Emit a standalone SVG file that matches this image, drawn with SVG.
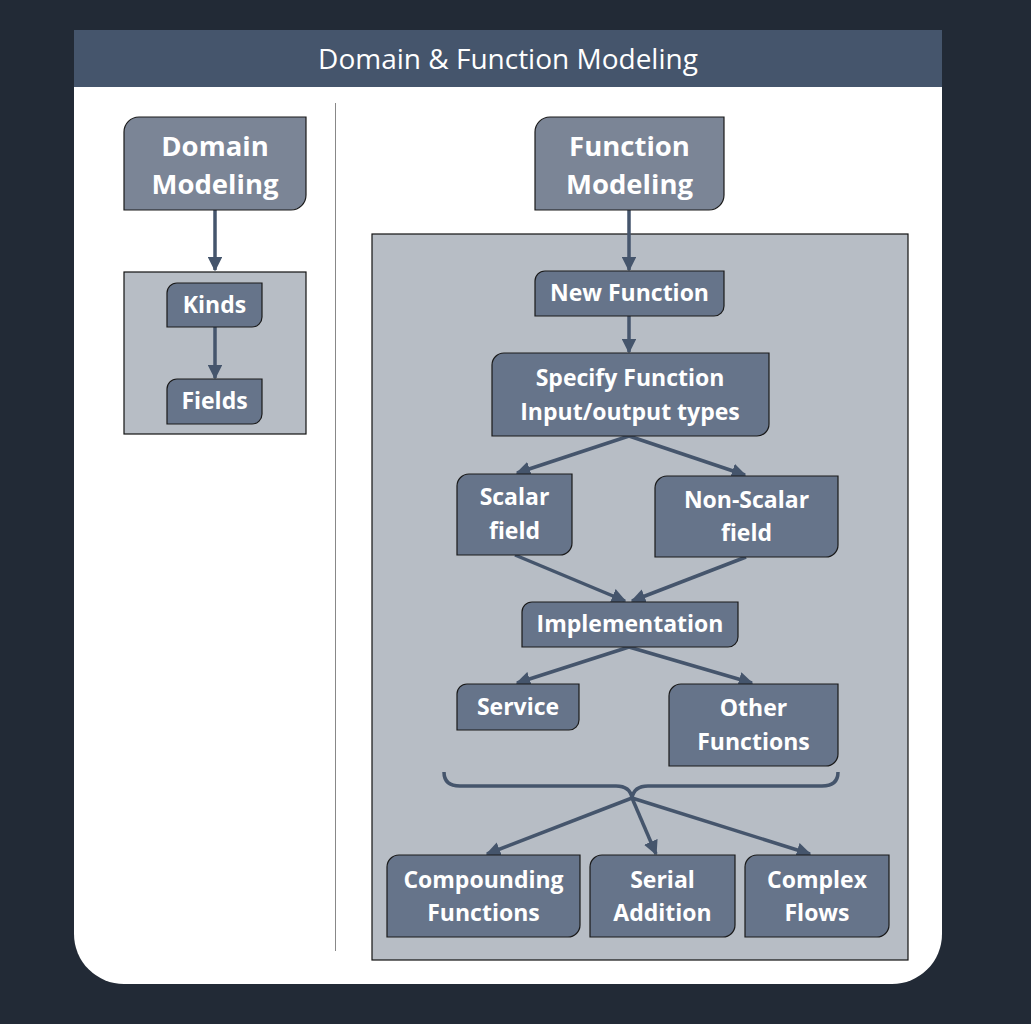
<svg xmlns="http://www.w3.org/2000/svg" width="1031" height="1024" viewBox="0 0 1031 1024">
<defs>
<marker id="ah" viewBox="0 0 10 10" refX="9" refY="5" markerWidth="4.2" markerHeight="4.2" orient="auto" markerUnits="strokeWidth">
<path d="M0,0 L10,5 L0,10 Z" fill="#45556c"/>
</marker>
</defs>
<style>
.node{fill:#66748a;stroke:#1a1a1a;stroke-width:1.2}
.top{fill:#7b8596;stroke:#1a1a1a;stroke-width:1.2}
.cont{fill:#b7bdc5;stroke:#111;stroke-width:1.2}
.t{font-family:"Open Sans","Liberation Sans",sans-serif;font-weight:bold;fill:#fff;text-anchor:middle;dominant-baseline:central}
.c{fill:none;stroke:#45556c;stroke-width:3.5}
.a{marker-end:url(#ah)}
</style>
<rect width="1031" height="1024" fill="#222a36"/>
<g id="card">
<path d="M74,87 H942 V934 A50 50 0 0 1 892,984 H124 A50 50 0 0 1 74,934 Z" fill="#fff"/>
<rect x="74" y="30" width="868" height="57" fill="#45556c"/>
<text x="508" y="58" font-family="Open Sans, Liberation Sans, sans-serif" font-size="28" fill="#fff" text-anchor="middle" dominant-baseline="central">Domain &amp; Function Modeling</text>
<line x1="335.5" y1="103" x2="335.5" y2="951" stroke="#888" stroke-width="1"/>
</g>
<g id="containers">
<rect class="cont" x="124" y="272" width="182" height="162"/>
<rect class="cont" x="372" y="234" width="536" height="726"/>
</g>
<g id="connectors">
<line class="c a" x1="215" y1="210" x2="215" y2="270"/>
<line class="c a" x1="215" y1="327" x2="215" y2="378"/>
<line class="c a" x1="629" y1="210" x2="629" y2="270"/>
<line class="c a" x1="629" y1="316" x2="629" y2="352"/>
<line class="c a" x1="629" y1="436" x2="517" y2="473"/>
<line class="c a" x1="629" y1="436" x2="745" y2="475"/>
<line class="c a" x1="515" y1="555" x2="625" y2="601"/>
<line class="c a" x1="746" y1="557" x2="632" y2="601"/>
<line class="c a" x1="629" y1="647" x2="517" y2="683"/>
<line class="c a" x1="629" y1="647" x2="752" y2="683"/>
<path class="c" d="M444,772 Q444,786 460,786 H616 Q630,786 632,798 Q634,786 648,786 H822 Q838,786 838,772"/>
<line class="c a" x1="632" y1="798" x2="487" y2="854"/>
<line class="c a" x1="632" y1="798" x2="656" y2="854"/>
<line class="c a" x1="632" y1="798" x2="810" y2="854"/>
</g>
<g id="domain-modeling">
<path class="top" d="M124,132 A15 15 0 0 1 139,117 H306 V195 A15 15 0 0 1 291,210 H124 Z"/>
<text class="t" font-size="27.5" x="215" y="145">Domain</text>
<text class="t" font-size="27.5" x="215" y="183">Modeling</text>
</g>
<g id="kinds">
<path class="node" d="M167,293 A10 10 0 0 1 177,283 H262 V317 A10 10 0 0 1 252,327 H167 Z"/>
<text class="t" font-size="23" x="214.5" y="304">Kinds</text>
</g>
<g id="fields">
<path class="node" d="M167,389 A10 10 0 0 1 177,379 H262 V414 A10 10 0 0 1 252,424 H167 Z"/>
<text class="t" font-size="23" x="214.5" y="400">Fields</text>
</g>
<g id="function-modeling">
<path class="top" d="M535,132 A15 15 0 0 1 550,117 H724 V195 A15 15 0 0 1 709,210 H535 Z"/>
<text class="t" font-size="27.5" x="629.5" y="145">Function</text>
<text class="t" font-size="27.5" x="629.5" y="183">Modeling</text>
</g>
<g id="new-function">
<path class="node" d="M535,281 A10 10 0 0 1 545,271 H724 V306 A10 10 0 0 1 714,316 H535 Z"/>
<text class="t" font-size="23" x="629.5" y="292">New Function</text>
</g>
<g id="specify">
<path class="node" d="M492,365 A12 12 0 0 1 504,353 H769 V424 A12 12 0 0 1 757,436 H492 Z"/>
<text class="t" font-size="23" x="630" y="377">Specify Function</text>
<text class="t" font-size="23" x="630" y="411">Input/output types</text>
</g>
<g id="scalar">
<path class="node" d="M457,486 A12 12 0 0 1 469,474 H572 V543 A12 12 0 0 1 560,555 H457 Z"/>
<text class="t" font-size="23" x="514.5" y="496">Scalar</text>
<text class="t" font-size="23" x="514.5" y="530">field</text>
</g>
<g id="non-scalar">
<path class="node" d="M655,488 A12 12 0 0 1 667,476 H838 V545 A12 12 0 0 1 826,557 H655 Z"/>
<text class="t" font-size="23" x="746.5" y="499">Non-Scalar</text>
<text class="t" font-size="23" x="746.5" y="532">field</text>
</g>
<g id="implementation">
<path class="node" d="M522,612 A10 10 0 0 1 532,602 H738 V637 A10 10 0 0 1 728,647 H522 Z"/>
<text class="t" font-size="23" x="630" y="623">Implementation</text>
</g>
<g id="service">
<path class="node" d="M457,694 A10 10 0 0 1 467,684 H579 V720 A10 10 0 0 1 569,730 H457 Z"/>
<text class="t" font-size="23" x="518" y="706">Service</text>
</g>
<g id="other-functions">
<path class="node" d="M669,696 A12 12 0 0 1 681,684 H838 V754 A12 12 0 0 1 826,766 H669 Z"/>
<text class="t" font-size="23" x="753.5" y="707">Other</text>
<text class="t" font-size="23" x="753.5" y="741">Functions</text>
</g>
<g id="compounding">
<path class="node" d="M387,867 A12 12 0 0 1 399,855 H580 V925 A12 12 0 0 1 568,937 H387 Z"/>
<text class="t" font-size="23" x="483.5" y="879">Compounding</text>
<text class="t" font-size="23" x="483.5" y="912">Functions</text>
</g>
<g id="serial">
<path class="node" d="M590,867 A12 12 0 0 1 602,855 H735 V925 A12 12 0 0 1 723,937 H590 Z"/>
<text class="t" font-size="23" x="662.5" y="879">Serial</text>
<text class="t" font-size="23" x="662.5" y="912">Addition</text>
</g>
<g id="complex">
<path class="node" d="M745,867 A12 12 0 0 1 757,855 H889 V925 A12 12 0 0 1 877,937 H745 Z"/>
<text class="t" font-size="23" x="817" y="879">Complex</text>
<text class="t" font-size="23" x="817" y="912">Flows</text>
</g>
</svg>
